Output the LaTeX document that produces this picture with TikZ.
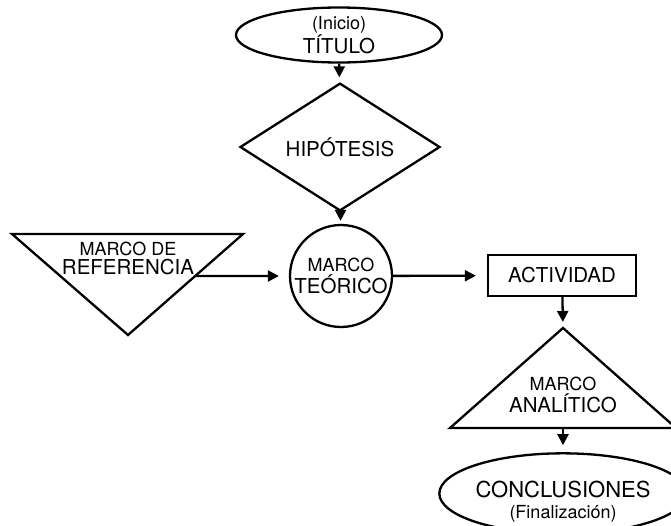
\documentclass[tikz,border=0pt]{standalone}
\usepackage{fontspec}
\setmainfont{TeX Gyre Heros}
\newcommand{\sm}[1]{{\fontsize{18}{22}\selectfont #1}}
\usetikzlibrary{arrows.meta,shapes.geometric,calc}

\begin{document}
\begin{tikzpicture}[x=1pt,y=-1pt,->,>={Triangle[length=11pt,width=11pt]}
  ,shorten >=6pt
  ,line width=2.3pt
  ,font=\fontsize{20.5}{22}\selectfont]
  \tikzstyle{every node}=[align=center,inner sep=0pt]
  \tikzstyle{fig}=[draw,-]

  \useasboundingbox (0,0) rectangle (671,525);

  % figuras
  \node[fig,ellipse,minimum width=206pt,minimum height=55pt](tit) at (339,35)
    {\sm{(Inicio)}\\[1pt]TÍTULO};
  \node[fig,diamond,minimum width=200pt,minimum height=89pt](hip) at (340,147)
    {HIPÓTESIS};
  \node[fig,circle,minimum size=102pt](teo) at (341,276)
    {\sm{MARCO}\\TEÓRICO};
  \node[fig,rectangle,minimum width=148pt,minimum height=41pt](act) at (562,275.5)
    {ACTIVIDAD};
  \node[fig,ellipse,minimum width=206pt,minimum height=63pt
    ,font=\fontsize{22}{21}\selectfont](concl) at (563,493.5)
    {\rule{0pt}{32pt}CONCLUSIONES\\\sm{(Finalización)}};

  \coordinate (refL) at (12,234);
  \coordinate (refR) at (243,234);
  \coordinate (refB) at (128,335);
  \draw[fig] (refL) -- (refR) -- (refB) -- cycle;
  \node(ref) at (128,258) {\sm{MARCO DE}\\[-3pt]REFERENCIA};
  \coordinate (refout) at ($(refR)!0.416!(refB)$);

  \coordinate (anaT) at (563,328);
  \coordinate (anaL) at (450,428);
  \coordinate (anaR) at (676,428);
  \coordinate (anaB) at (563,428);
  \draw[fig] (anaT) -- (anaR) -- (anaL) -- cycle;
  \node(ana) at (563,394.5) {\sm{MARCO}\\ANALÍTICO};

  \path
  (tit)    edge [shorten >=5pt]  (hip)
  (hip)    edge [shorten >=3pt]  (teo)
  (refout) edge [shorten >=10pt] (teo)
  (teo)    edge [shorten >=11pt] (act)
  (act)    edge                  (anaT)
  (anaB)   edge [shorten >=7pt]  (concl)
  ;

\end{tikzpicture}
\end{document}
